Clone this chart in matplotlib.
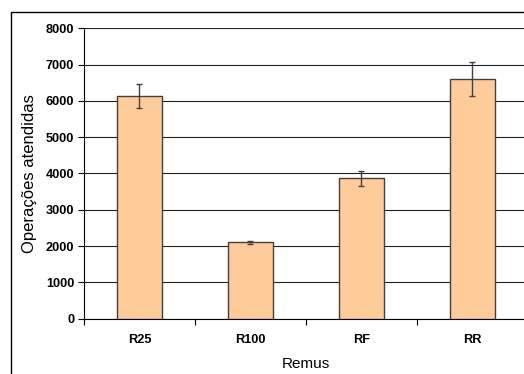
import numpy as np
import matplotlib
matplotlib.use("Agg")
from matplotlib import pyplot as plt
from matplotlib.patches import Rectangle

plt.rcParams["font.family"] = ["Liberation Sans", "DejaVu Sans"]

categorias = ["R25", "R100", "RF", "RR"]
valores = [6125, 2100, 3865, 6600]
erros = [330, 30, 205, 460]

fig = plt.figure(figsize=(5.24, 3.74), dpi=100)
ax = fig.add_axes([0.1603, 0.1479, 0.8473, 0.7764])

x = np.arange(len(categorias))
ax.bar(x, valores, width=0.405, color="#FFCC99", edgecolor="#404040",
       linewidth=1.0, zorder=3)
ax.errorbar(x, valores, yerr=erros, fmt="none", ecolor="#404040",
            elinewidth=1.0, capsize=2.5, capthick=1.0, zorder=4)

ax.set_xlim(-0.5, 3.5)
ax.set_ylim(0, 8000)
ax.set_yticks(np.arange(0, 8001, 1000))
ax.set_xticks(x)
ax.set_xticklabels(categorias, fontweight="bold", fontsize=9.2)
ax.set_xticks([-0.5, 0.5, 1.5, 2.5], minor=True)
ax.tick_params(axis="x", which="major", length=0, pad=11)
ax.tick_params(axis="x", which="minor", length=4, width=0.8, direction="out")
ax.tick_params(axis="y", length=4, width=0.8, labelsize=9.2, pad=3)
for t in ax.get_yticklabels():
    t.set_fontweight("bold")

ax.yaxis.grid(True, color="#202020", linewidth=0.8, zorder=0)
ax.set_axisbelow(True)
for s in ["top", "right"]:
    ax.spines[s].set_visible(False)
for s in ["left", "bottom"]:
    ax.spines[s].set_linewidth(0.8)

ax.set_xlabel("Remus", fontsize=11, labelpad=8)
ax.set_ylabel("Operações atendidas", fontsize=12, labelpad=6)

# moldura externa do grafico
fig.patches.append(Rectangle((10.5 / 524, -0.1), 1.2, 1 - 12 / 374 + 0.1,
                             transform=fig.transFigure, fill=False,
                             edgecolor="black", linewidth=1.0))

fig.savefig("out.png", dpi=100)
